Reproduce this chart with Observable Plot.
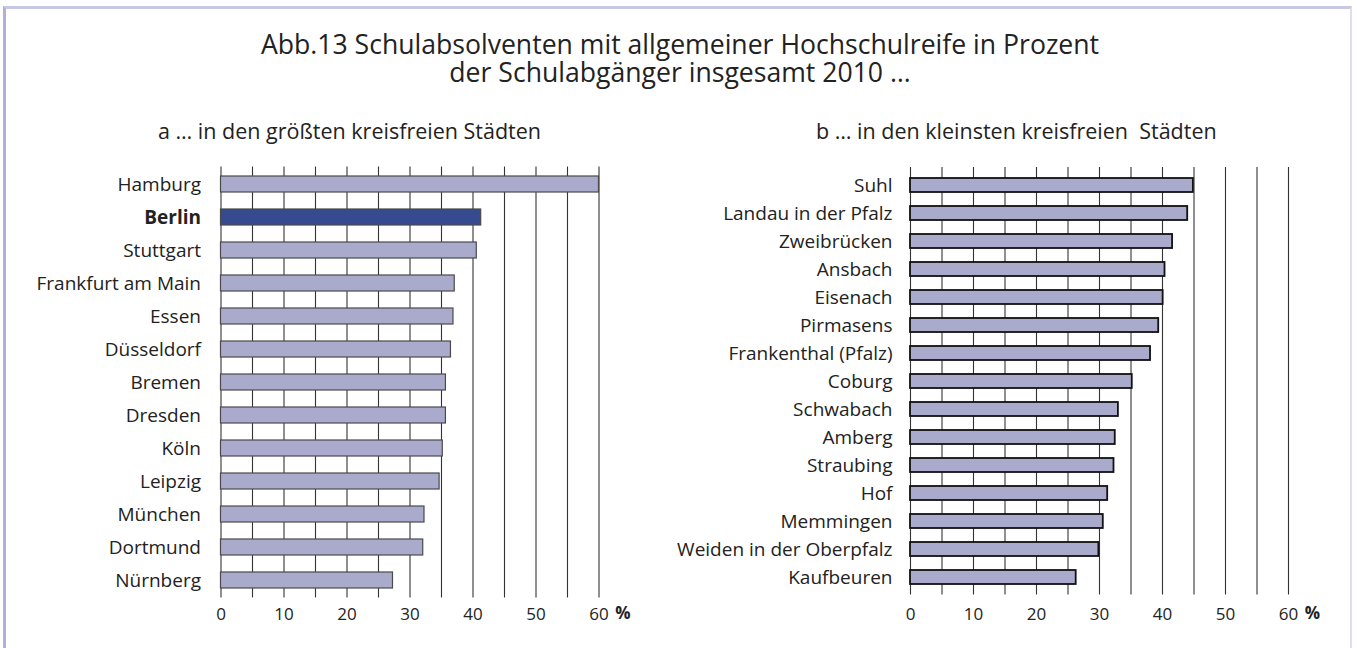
<!DOCTYPE html>
<html>
<head>
<meta charset="utf-8">
<script src="https://cdn.jsdelivr.net/npm/d3@7"></script>
<script src="https://cdn.jsdelivr.net/npm/@observablehq/plot@0.6"></script>
<style>
  html, body { margin: 0; padding: 0; background: #fff; }
  #root { position: relative; width: 1357px; height: 648px; overflow: hidden; font-family: "Open Sans", sans-serif; color: #222; }
  #frame { position: absolute; left: 3px; top: 6px; width: 1349px; height: 700px;
           border-left: 3px solid #b0b0d8; border-top: 3px solid #c8c8e4; border-right: 2px solid #dedeee; box-sizing: border-box; }
  .t { position: absolute; white-space: pre; line-height: 1; }
  .title { left: 0; width: 1360px; text-align: center; font-size: 26.6px; line-height: 27.5px; }
  .sub { font-size: 21.5px; }
  .panel { position: absolute; top: 0; }
</style>
</head>
<body>
<div id="root">
  <div id="frame"></div>
  <div class="t title" id="t1" style="top:31px"></div>
  <div class="t sub" id="sa" style="left:158px; top:120px"></div>
  <div class="t sub" id="sb" style="left:816px; top:120px"></div>
  <div class="panel" id="pa" style="left:0px"></div>
  <div class="panel" id="pb" style="left:680px"></div>
</div>
<script>
const titleLines = ["Abb.13 Schulabsolventen mit allgemeiner Hochschulreife in Prozent", "der Schulabgänger insgesamt 2010 …"];
const subtitleA = "a … in den größten kreisfreien Städten";
const subtitleB = "b … in den kleinsten kreisfreien  Städten";

const citiesA = ["Hamburg","Berlin","Stuttgart","Frankfurt am Main","Essen","Düsseldorf","Bremen","Dresden","Köln","Leipzig","München","Dortmund","Nürnberg"];
const valuesA = [60.0, 41.3, 40.6, 37.1, 36.9, 36.5, 35.7, 35.7, 35.2, 34.7, 32.3, 32.1, 27.3];

const citiesB = ["Suhl","Landau in der Pfalz","Zweibrücken","Ansbach","Eisenach","Pirmasens","Frankenthal (Pfalz)","Coburg","Schwabach","Amberg","Straubing","Hof","Memmingen","Weiden in der Oberpfalz","Kaufbeuren"];
const valuesB = [44.9, 44.0, 41.6, 40.4, 40.1, 39.4, 38.1, 35.2, 33.0, 32.5, 32.3, 31.3, 30.6, 29.9, 26.3];

const gridTicks = [0,5,10,15,20,25,30,35,40,45,50,55,60];
const labelTicks = [0,10,20,30,40,50,60];
const unitLabel = "%";
const highlight = "Berlin";

document.getElementById("t1").textContent = titleLines.join("\n");
document.getElementById("sa").textContent = subtitleA;
document.getElementById("sb").textContent = subtitleB;

function panel(cities, values, o) {
  const data = cities.map((c, i) => ({city: c, value: values[i]}));
  return Plot.plot({
    width: o.width, height: 648,
    marginLeft: o.ml, marginRight: o.mr, marginTop: o.mt, marginBottom: o.mb,
    x: {domain: [0, 60]},
    y: {domain: cities, paddingInner: o.pad, paddingOuter: o.pad / 2},
    style: {fontFamily: "Open Sans", color: "#222", background: "transparent", overflow: "visible"},
    marks: [
      Plot.ruleX(gridTicks, {stroke: "#333", strokeWidth: 1.1}),
      Plot.barX(data, {x: "value", y: "city", fill: d => d.city === highlight ? "#364a8f" : "#aaaacc",
                       stroke: o.stroke, strokeWidth: o.sw}),
      Plot.axisX(labelTicks, {tickSize: 0, tickPadding: o.tp, fontSize: 17, label: null, tickFormat: d => String(d)}),
      Plot.axisY({tickSize: 0, tickPadding: o.lp, fontSize: 19, label: null,
                  tickFormat: d => d === highlight ? "" : d}),
      Plot.text(cities.filter(c => c === highlight), {y: d => d, text: d => d, frameAnchor: "left",
                  textAnchor: "end", dx: -o.lp, fontSize: 19, fontWeight: "bold", fill: "#222"}),
      Plot.text([unitLabel], {x: [labelTicks[labelTicks.length - 1]], text: d => d, frameAnchor: "bottom",
                  dx: 24, dy: o.tp + 6, lineAnchor: "middle", fontSize: 17, fontWeight: "bold", fill: "#222"})
    ]
  });
}

document.getElementById("pa").appendChild(panel(citiesA, valuesA,
  {width: 680, ml: 220.5, mr: 81.5, mt: 166.4, mb: 50.4, pad: 0.52, stroke: "#4a4a4a", sw: 1.2, tp: 9.4, lp: 20}));
document.getElementById("pb").appendChild(panel(citiesB, valuesB,
  {width: 677, ml: 230, mr: 69, mt: 167, mb: 53.5, pad: 0.51, stroke: "#111", sw: 1.8, tp: 12.5, lp: 18}));
</script>
</body>
</html>
